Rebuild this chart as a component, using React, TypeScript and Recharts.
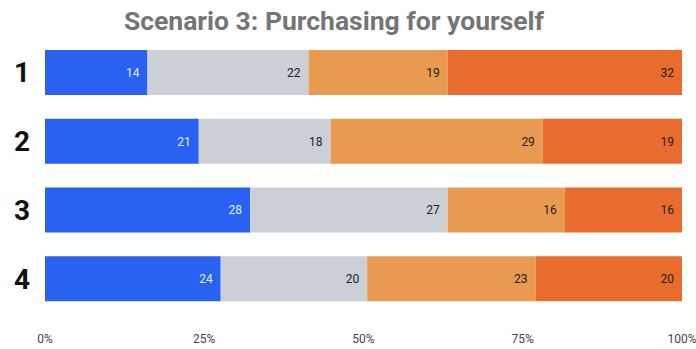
import React from 'react';
import { BarChart, Bar, XAxis, YAxis, LabelList } from 'recharts';

const categories = ['1', '2', '3', '4'];
const seriesA = [14, 21, 28, 24];
const seriesB = [22, 18, 27, 20];
const seriesC = [19, 29, 16, 23];
const seriesD = [32, 19, 16, 20];
const tickValues = [0, 0.25, 0.5, 0.75, 1];

const data = categories.map((name, i) => ({
  name,
  a: seriesA[i],
  b: seriesB[i],
  c: seriesC[i],
  d: seriesD[i],
}));

const labelStyle = { fontFamily: 'Roboto', fontSize: 12 };

const App: React.FC = () => {
  return (
    <div style={{ position: 'absolute', left: 0, top: 0, width: 696, height: 349 }}>
      <div
        style={{
          position: 'absolute',
          top: 5,
          left: 0,
          width: 668,
          textAlign: 'center',
          fontFamily: 'Roboto',
          fontWeight: 700,
          fontSize: 26.5,
          color: '#757575',
        }}
      >
        Scenario 3: Purchasing for yourself
      </div>
      <BarChart
        width={696}
        height={349}
        data={data}
        layout="vertical"
        stackOffset="expand"
        barSize={45}
        margin={{ top: 38, right: 14, bottom: 6, left: 0 }}
      >
        <XAxis
          type="number"
          domain={[0, 1]}
          ticks={tickValues}
          tickFormatter={(v: number) => `${Math.round(v * 100)}%`}
          axisLine={false}
          tickLine={false}
          tickMargin={15}
          height={30}
          tick={{ fontFamily: 'Roboto', fontSize: 12, fill: '#444' }}
          interval={0}
        />
        <YAxis
          type="category"
          dataKey="name"
          width={45}
          axisLine={false}
          tickLine={false}
          tickMargin={17}
          tick={{ fontFamily: 'Roboto', fontSize: 28, fontWeight: 700, fill: '#111', textAnchor: 'middle' }}
        />
        <Bar dataKey="a" stackId="s" fill="#2962F0" isAnimationActive={false}>
          <LabelList dataKey="a" position="insideRight" offset={8} fill="#e6ecff" style={labelStyle} />
        </Bar>
        <Bar dataKey="b" stackId="s" fill="#CBCFD6" isAnimationActive={false}>
          <LabelList dataKey="b" position="insideRight" offset={8} fill="#222" style={labelStyle} />
        </Bar>
        <Bar dataKey="c" stackId="s" fill="#E89A50" isAnimationActive={false}>
          <LabelList dataKey="c" position="insideRight" offset={8} fill="#222" style={labelStyle} />
        </Bar>
        <Bar dataKey="d" stackId="s" fill="#E86C2E" isAnimationActive={false}>
          <LabelList dataKey="d" position="insideRight" offset={8} fill="#222" style={labelStyle} />
        </Bar>
      </BarChart>
    </div>
  );
};

export default App;
